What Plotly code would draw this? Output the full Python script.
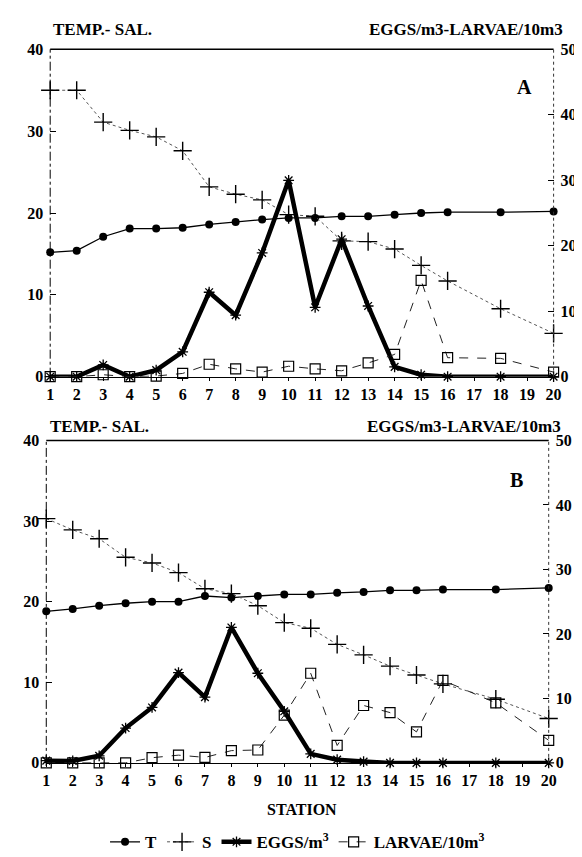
import plotly.graph_objects as go

stations = [1, 2, 3, 4, 5, 6, 7, 8, 9, 10, 11, 12, 13, 14, 15, 16, 18, 20]

# Panel A
T_A = [15.2, 15.4, 17.1, 18.1, 18.1, 18.2, 18.6, 18.9, 19.2, 19.4, 19.4, 19.6, 19.6, 19.8, 20.0, 20.1, 20.1, 20.2]
S_A = [35.0, 35.0, 31.1, 30.1, 29.3, 27.6, 23.2, 22.3, 21.6, 19.8, 19.6, 16.6, 16.5, 15.6, 13.6, 11.7, 8.3, 5.3]
EGGS_A = [0, 0, 1.8, 0, 1.0, 3.8, 12.9, 9.4, 18.9, 30.0, 10.6, 21.0, 10.8, 1.5, 0.3, 0, 0, 0]
LARV_A = [0, 0, 0.3, 0, 0.1, 0.5, 1.9, 1.2, 0.7, 1.6, 1.2, 0.9, 2.1, 3.4, 14.7, 2.9, 2.8, 0.7]

# Panel B
T_B = [18.8, 19.1, 19.5, 19.8, 20.0, 20.0, 20.7, 20.5, 20.7, 20.9, 20.9, 21.1, 21.2, 21.4, 21.4, 21.5, 21.5, 21.7]
S_B = [30.3, 28.9, 27.8, 25.5, 24.8, 23.6, 21.6, 21.0, 19.5, 17.4, 16.7, 14.7, 13.4, 12.0, 10.9, 9.8, 7.9, 5.5]
EGGS_B = [0.35, 0.3, 1.1, 5.4, 8.6, 14.0, 10.2, 21.0, 13.9, 8.0, 1.4, 0.5, 0.2, 0, 0, 0, 0, 0]
LARV_B = [0, 0, 0, 0, 0.8, 1.2, 0.85, 1.9, 2.0, 7.4, 13.9, 2.7, 8.9, 7.8, 4.8, 12.8, 9.3, 3.5]

x_ticks = list(range(1, 21))
left_ticks = [0, 10, 20, 30, 40]
right_ticks = [0, 10, 20, 30, 40, 50]

FONT = "Liberation Serif"
W, H = 582, 857

fig = go.Figure()

def add_panel(T, S, E, L, xa, ya_l, ya_r, show_legend):
    fig.add_trace(go.Scatter(x=stations, y=T, xaxis=xa, yaxis=ya_l, name="T", mode="lines+markers",
                             line=dict(color="black", width=1.3), marker=dict(symbol="circle", size=8, color="black"),
                             cliponaxis=False, showlegend=show_legend, legendrank=1))
    fig.add_trace(go.Scatter(x=stations, y=S, xaxis=xa, yaxis=ya_l, name="S", mode="lines+markers",
                             line=dict(color="#555555", width=1, dash="dot"),
                             marker=dict(symbol="cross-thin", size=13, line=dict(color="black", width=1.4)),
                             cliponaxis=False, showlegend=show_legend, legendrank=2))
    fig.add_trace(go.Scatter(x=stations, y=E, xaxis=xa, yaxis=ya_r, name="EGGS/m<sup>3</sup>", mode="lines+markers",
                             line=dict(color="black", width=4.5),
                             marker=dict(symbol="asterisk-open", size=9, line=dict(color="black", width=1.3)),
                             cliponaxis=False, showlegend=show_legend, legendrank=3))
    fig.add_trace(go.Scatter(x=stations, y=L, xaxis=xa, yaxis=ya_r, name="LARVAE/10m<sup>3</sup>", mode="lines+markers",
                             line=dict(color="#222222", width=1, dash="dash"),
                             marker=dict(symbol="square-open", size=10, color="black", line=dict(width=1.2)),
                             cliponaxis=False, showlegend=show_legend, legendrank=4))

add_panel(T_A, S_A, EGGS_A, LARV_A, "x", "y", "y2", True)
add_panel(T_B, S_B, EGGS_B, LARV_B, "x2", "y3", "y4", False)

tickfont = dict(family=FONT, size=16, color="black", weight="bold")

xA = [39 / W, 553 / W]
xB = [35 / W, 548 / W]
yA = [1 - 368 / H, 1 - 34 / H]
yB = [1 - 762 / H, 1 - 433 / H]

xcommon = dict(range=[1, 20], tickvals=x_ticks, showgrid=False, zeroline=False, showline=True,
               linecolor="black", linewidth=1.2, ticks="outside", ticklen=3, tickcolor="black",
               tickfont=tickfont, fixedrange=True)
ycommon = dict(showgrid=False, zeroline=False, showline=False, ticks="inside", ticklen=6,
               tickcolor="black", tickfont=tickfont, ticklabelstandoff=6)

fig.update_layout(
    width=W, height=H,
    margin=dict(l=0, r=0, t=0, b=0),
    paper_bgcolor="white", plot_bgcolor="white",
    font=dict(family=FONT, color="black"),
    xaxis=dict(domain=xA, anchor="y", **xcommon),
    xaxis2=dict(domain=xB, anchor="y3", **xcommon),
    yaxis=dict(domain=yA, anchor="x", range=[0, 40], tickvals=left_ticks, **ycommon),
    yaxis2=dict(domain=yA, anchor="x", overlaying="y", side="right", range=[0, 50], tickvals=right_ticks, **ycommon),
    yaxis3=dict(domain=yB, anchor="x2", range=[0, 40], tickvals=left_ticks, **ycommon),
    yaxis4=dict(domain=yB, anchor="x2", overlaying="y3", side="right", range=[0, 50], tickvals=right_ticks, **ycommon),
    legend=dict(orientation="h", x=95 / W, xanchor="left", y=1 - 843 / H, yanchor="middle",
                font=dict(family=FONT, size=17, color="black", weight="bold"), itemwidth=30,
                bgcolor="rgba(0,0,0,0)"),
)

# frame lines
for xd, yd in [("x domain", "y domain"), ("x2 domain", "y3 domain")]:
    fig.add_shape(type="line", xref=xd, yref=yd, x0=0, x1=1, y0=1, y1=1, line=dict(color="black", width=1.5))
    fig.add_shape(type="line", xref=xd, yref=yd, x0=0, x1=0, y0=0, y1=1, line=dict(color="black", width=1, dash="dashdot"))
    fig.add_shape(type="line", xref=xd, yref=yd, x0=1, x1=1, y0=0, y1=1, line=dict(color="#333333", width=1, dash="dot"))

def ann(text, x, y, size=17, xanchor="left"):
    fig.add_annotation(text=text, x=x / W, y=1 - y / H, xref="paper", yref="paper", showarrow=False,
                       xanchor=xanchor, yanchor="middle", font=dict(family=FONT, size=size, color="black"))

ann("<b>TEMP.- SAL.</b>", 40, 14)
ann("<b>EGGS/m3-LARVAE/10m3</b>", 565, 14, xanchor="right")
ann("<b>A</b>", 523, 72, size=20, xanchor="center")
ann("<b>TEMP.- SAL.</b>", 37, 419)
ann("<b>EGGS/m3-LARVAE/10m3</b>", 563, 419, xanchor="right")
ann("<b>B</b>", 515, 473, size=20, xanchor="center")
ann("<b>STATION</b>", 296, 810, size=16, xanchor="center")

fig.write_html("out.html")
